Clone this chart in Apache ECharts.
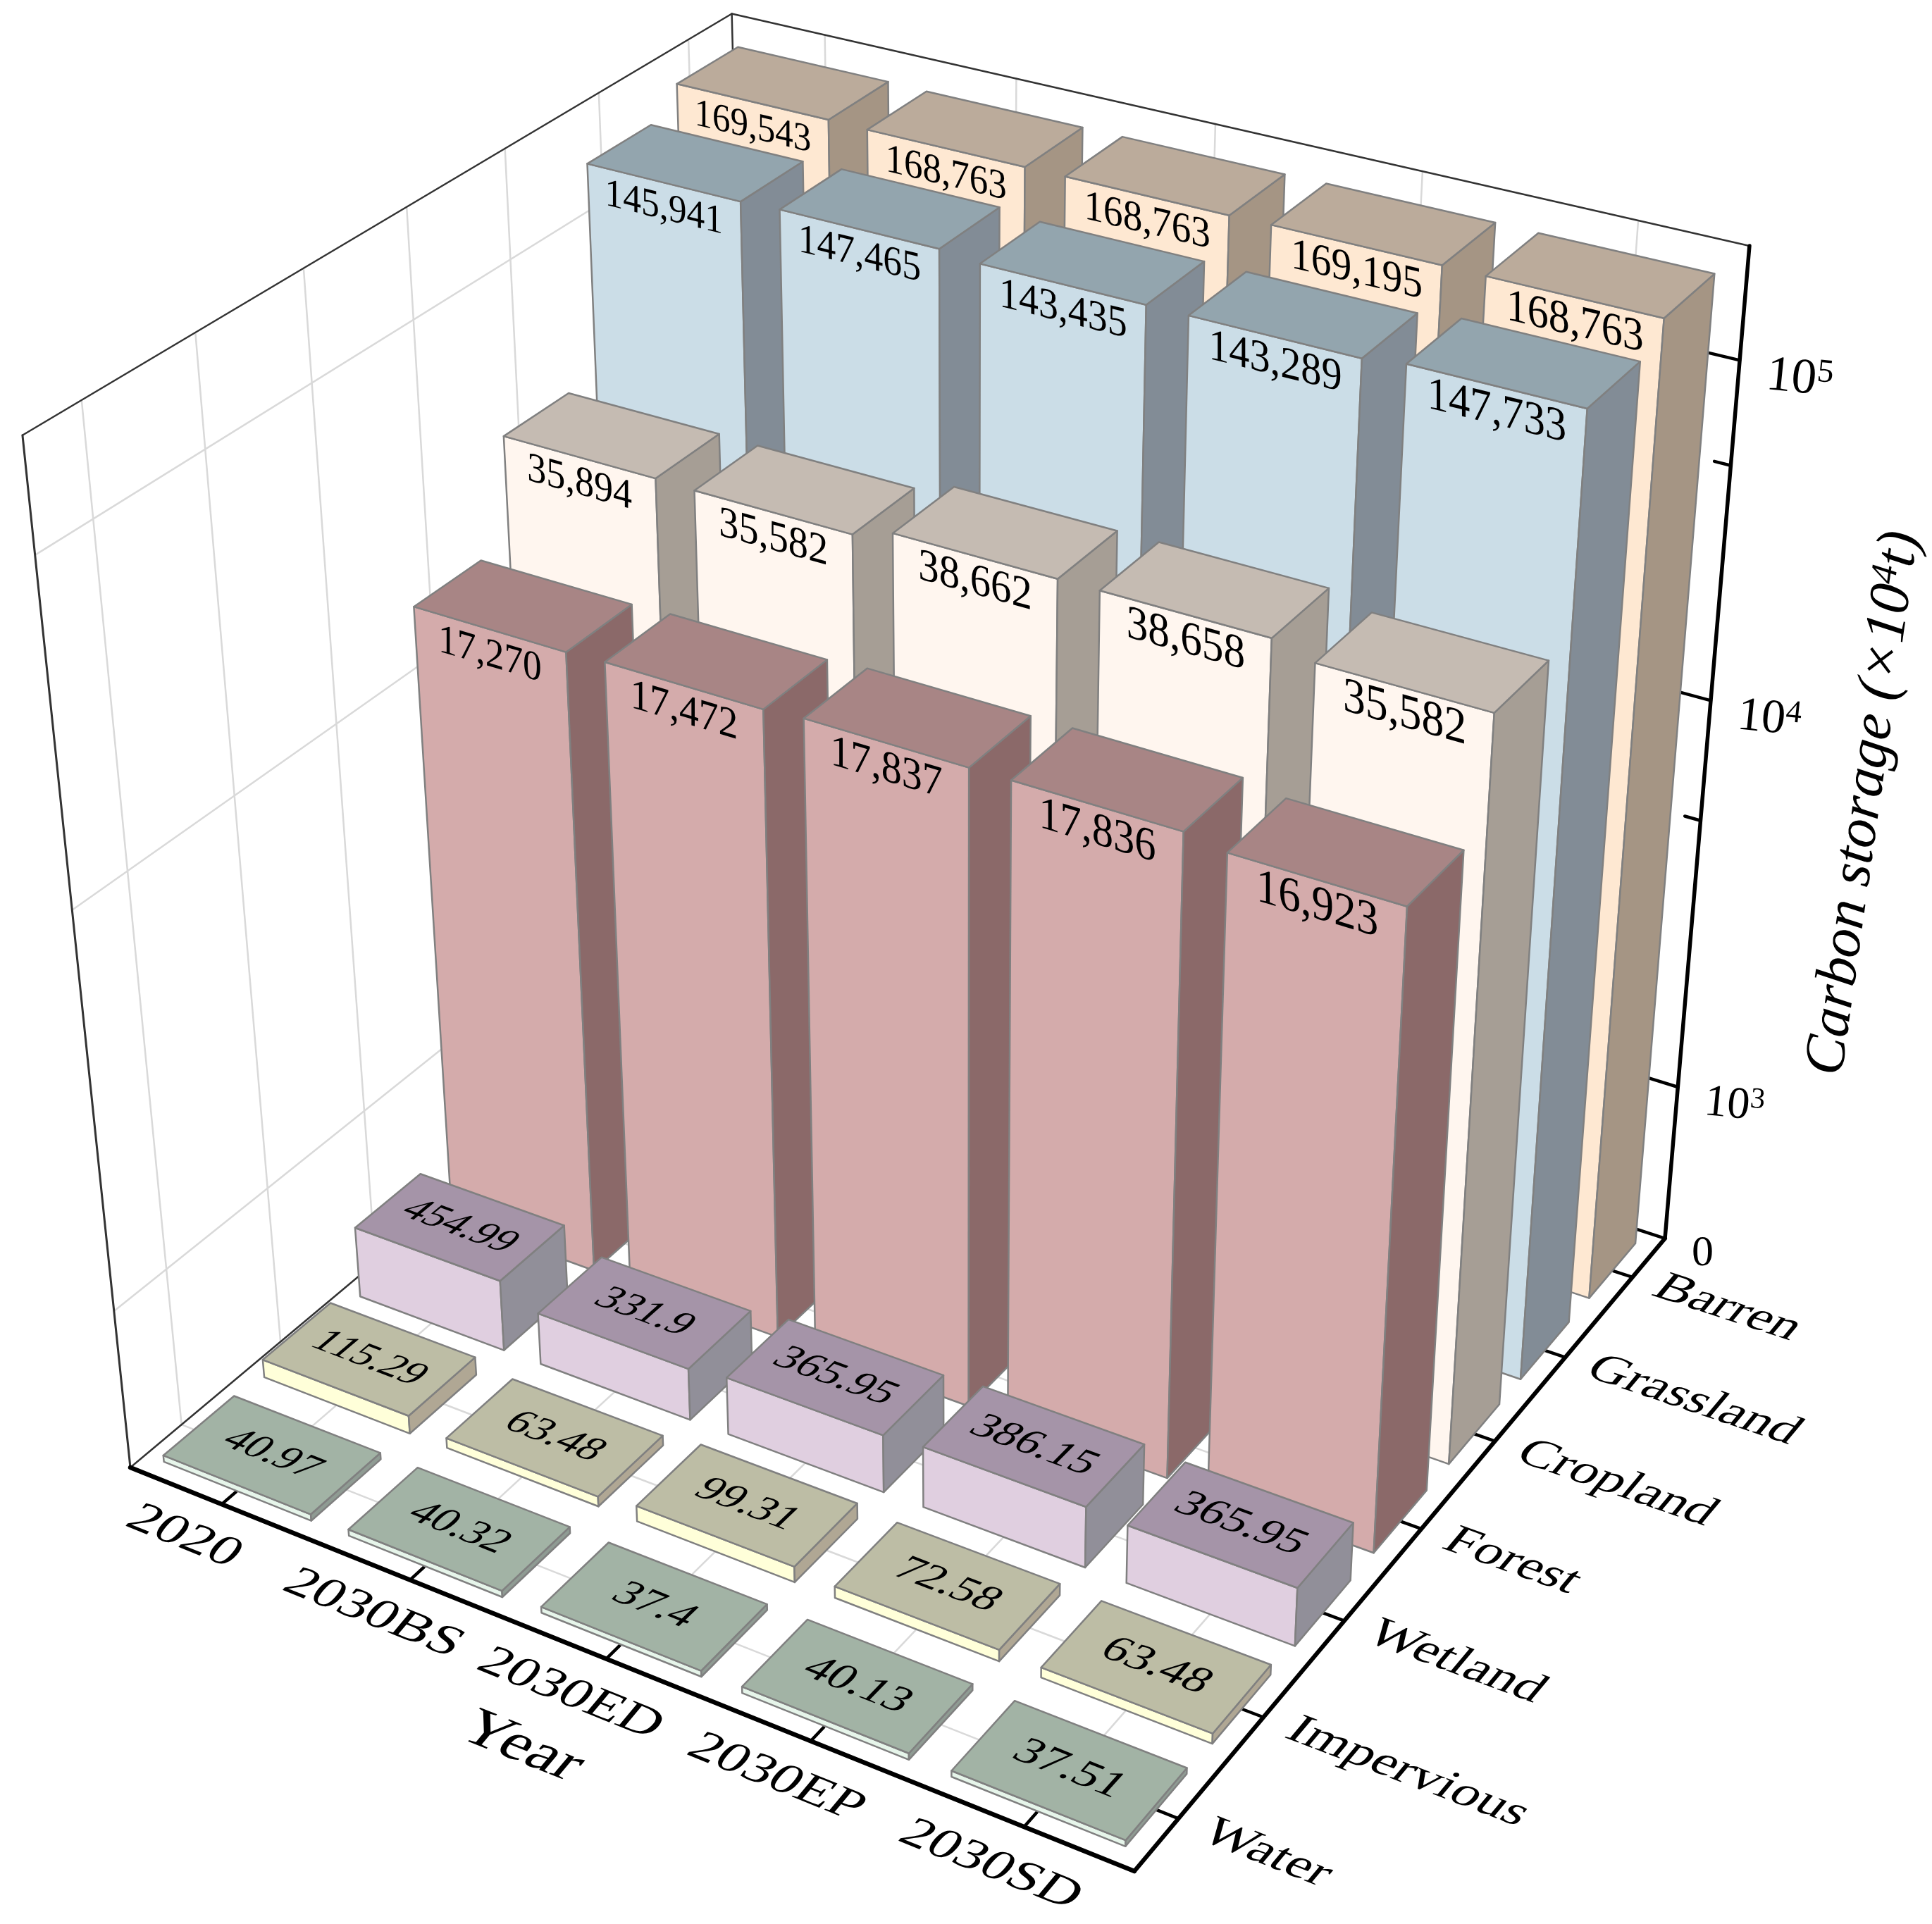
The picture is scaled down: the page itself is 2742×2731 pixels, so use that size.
<!DOCTYPE html>
<html>
<head>
<meta charset="utf-8">
<title>Carbon storage</title>
<script src="https://cdn.jsdelivr.net/npm/echarts@6/dist/echarts.min.js"></script>
<style>
  html, body { margin: 0; padding: 0; background: #fff; }
  #chart { width: 2742px; height: 2731px; }
</style>
</head>
<body>
<div id="chart"></div>
<script>
// data
const years = ['2020', '2030BS', '2030ED', '2030EP', '2030SD'];
const landTypes = ['Water', 'Impervious', 'Wetland', 'Forest', 'Cropland', 'Grassland', 'Barren'];
const water = [40.97, 40.32, 37.4, 40.13, 37.51];
const impervious = [115.29, 63.48, 99.31, 72.58, 63.48];
const wetland = [454.99, 331.9, 365.95, 386.15, 365.95];
const forest = [17270, 17472, 17837, 17836, 16923];
const cropland = [35894, 35582, 38662, 38658, 35582];
const grassland = [145941, 147465, 143435, 143289, 147733];
const barren = [169543, 168763, 168763, 169195, 168763];
const majorTicks = [0, 1000, 10000, 100000];
const minorTicks = [5000, 50000];
const tickLabels = ['0', '{b|10}{s|3}', '{b|10}{s|4}', '{b|10}{s|5}'];

const rows = [water, impervious, wetland, forest, cropland, grassland, barren];

// face colours per land type, same order as landTypes
const faces = [
  { front: '#e6f5ea', top: '#a2b3a5', side: '#8f9b93' },
  { front: '#ffffd9', top: '#bdbda5', side: '#b0a794' },
  { front: '#e0cfe0', top: '#a594a8', side: '#918f99' },
  { front: '#d4abab', top: '#a88585', side: '#8b6969', labelWidth: 0.68 },
  { front: '#fff6ef', top: '#c5bbb2', side: '#a69e95', labelWidth: 0.69 },
  { front: '#cbdde7', top: '#93a5ae', side: '#828c96', labelWidth: 0.77 },
  { front: '#fee8d2', top: '#bbab9b', side: '#a59584', labelWidth: 0.77 }
];

// camera: three vanishing points, origin at the left floor corner (full-size pixels)
const origin = [185, 2083];
const vpU = [-12789, -3134], kU = -0.09896;
const vpV = [6583, -3275], kV = 0.1608;
const vpW = [1370, 13426], kW = -0.1144;

function project(u, v, w) {
  const h = 1 + kU * u + kV * v + kW * w;
  return [
    (origin[0] + kU * u * vpU[0] + kV * v * vpV[0] + kW * w * vpW[0]) / h,
    (origin[1] + kU * u * vpU[1] + kV * v * vpV[1] + kW * w * vpW[1]) / h
  ];
}

// height axis: linear from 0 to 1000, then log per decade
const heightStops = [[3, 0.1678], [4, 0.57], [5, 0.8958], [5.286, 1]];
function heightOf(val) {
  if (val <= 1000) return val / 1000 * heightStops[0][1];
  const lg = Math.log10(val);
  for (let i = 0; i < heightStops.length - 1; i++) {
    const a = heightStops[i], b = heightStops[i + 1];
    if (lg <= b[0]) return echarts.number.linearMap(lg, [a[0], b[0]], [a[1], b[1]]);
  }
  return 1;
}

const GRID_W = 1000, GRID_H = 1000;
const BAR_U = 0.8 / years.length, BAR_V = 0.7 / landTypes.length;
const TEXT_FONT = '"Liberation Serif", "Times New Roman", serif';

// text lying on a skewed plane: dir is the baseline, up the glyph direction
function planeText(text, pos, dir, up, fontSize, squash, extraStyle) {
  return {
    type: 'text',
    x: pos[0], y: pos[1],
    scaleX: 1, scaleY: squash,
    skewX: Math.atan(up[0] / up[1]), skewY: Math.atan(-dir[1] / dir[0]),
    silent: true,
    style: Object.assign({
      text: text, fontSize: fontSize, fontFamily: TEXT_FONT, fill: '#000',
      align: 'center', verticalAlign: 'middle'
    }, extraStyle || {})
  };
}

function diff(a, b) { return [b[0] - a[0], b[1] - a[1]]; }

function line(a, b, color, width) {
  return {
    type: 'line', silent: true,
    shape: { x1: a[0], y1: a[1], x2: b[0], y2: b[1] },
    style: { stroke: color, lineWidth: width, lineCap: 'round' }
  };
}

function renderBar(params, api) {
  const c = api.coord([api.value(0), api.value(1)]);
  const uc = c[0] / GRID_W, vc = 1 - c[1] / GRID_H;
  const val = api.value(2);
  const h = heightOf(val);
  const u0 = uc - BAR_U / 2, u1 = uc + BAR_U / 2, v0 = vc - BAR_V / 2, v1 = vc + BAR_V / 2;
  const st = faces[api.value(1)];
  const edge = { stroke: '#808080', lineWidth: 2.5, lineJoin: 'round' };
  const face = (pts, fill) => ({
    type: 'polygon', silent: true,
    shape: { points: pts },
    style: Object.assign({ fill: fill }, edge)
  });
  const a = project(u0, v0, 0), b = project(u1, v0, 0), d = project(u1, v1, 0);
  const e = project(u0, v0, h), f = project(u1, v0, h), g = project(u1, v1, h), k = project(u0, v1, h);
  const children = [
    face([a, b, f, e], st.front),
    face([b, d, g, f], st.side),
    face([e, f, g, k], st.top)
  ];
  const faceW = f[0] - e[0];
  if (st.labelWidth) {
    // tall bars: thousands-separated label under the top edge of the front face
    const txt = val.toLocaleString('en-US');
    const em = (txt.length - 1) * 0.5 + 0.25;
    const mid = [(e[0] + f[0]) / 2, (e[1] + f[1]) / 2 + 37];
    children.push(planeText(txt, mid, diff(e, f), [0, -1], st.labelWidth * faceW / em, 1.1));
  } else {
    const mid = project(uc, vc, h);
    children.push(planeText(String(val), mid, diff(e, f), diff(e, k), faceW * 0.265, 0.68));
  }
  return { type: 'group', children: children };
}

function renderFrame(params, api) {
  const out = [];
  const GRID = '#d9d9d9', THIN = '#333', THICK = '#000';
  const uTicks = years.map((y, i) => (i + 0.5) / years.length);
  const vTicks = landTypes.map((y, i) => (i + 0.5) / landTypes.length);
  const wTicks = majorTicks.slice(1).map(heightOf);

  uTicks.forEach(u => {
    out.push(line(project(u, 0, 0), project(u, 1, 0), GRID, 2.5));
    out.push(line(project(u, 1, 0), project(u, 1, 1), GRID, 2.5));
  });
  vTicks.forEach(v => {
    out.push(line(project(0, v, 0), project(1, v, 0), GRID, 2.5));
    out.push(line(project(0, v, 0), project(0, v, 1), GRID, 2.5));
  });
  wTicks.forEach(w => {
    out.push(line(project(0, 0, w), project(0, 1, w), GRID, 2.5));
    out.push(line(project(0, 1, w), project(1, 1, w), GRID, 2.5));
  });

  // thin box edges
  out.push(line(project(0, 0, 0), project(0, 0, 1), THIN, 3));
  out.push(line(project(0, 0, 1), project(0, 1, 1), THIN, 2.5));
  out.push(line(project(0, 1, 1), project(1, 1, 1), THIN, 2.5));
  out.push(line(project(0, 1, 0), project(0, 1, 1), THIN, 2.5));
  out.push(line(project(0, 0, 0), project(0, 1, 0), THIN, 2.5));

  // thick axes
  out.push(line(project(0, 0, 0), project(1, 0, 0), THICK, 6.5));
  out.push(line(project(1, 0, 0), project(1, 1, 0), THICK, 6));
  out.push(line(project(1, 1, 0), project(1, 1, 1), THICK, 5.5));

  uTicks.forEach(u => out.push(line(project(u, 0, 0), project(u, 0.02, 0), THICK, 4.5)));
  vTicks.forEach(v => out.push(line(project(1, v, 0), project(0.98, v, 0), THICK, 4.5)));
  majorTicks.forEach(t => {
    const w = heightOf(t);
    out.push(line(project(1, 1, w), project(0.97, 1, w), THICK, 4.5));
  });
  minorTicks.forEach(t => {
    const w = heightOf(t);
    out.push(line(project(1, 1, w), project(0.985, 1, w), THICK, 4.5));
  });

  // labels lie in the floor plane
  const upV = diff(project(1, 0, 0), project(1, 1, 0));
  years.forEach((y, i) => {
    const dir = diff(project(uTicks[i] - 0.05, 0, 0), project(uTicks[i] + 0.05, 0, 0));
    out.push(planeText(y, project(uTicks[i], -0.052, 0), dir, upV, 75, 0.68));
  });
  landTypes.forEach((t, j) => {
    const dir = diff(project(0.98, vTicks[j], 0), project(1.08, vTicks[j], 0));
    out.push(planeText(t, project(1.025, vTicks[j], 0), dir, upV, 73, 0.68, { align: 'left' }));
  });
  out.push(planeText('Year', [740, 2480], diff(project(0.4, 0, 0), project(0.6, 0, 0)), upV, 87, 0.72));

  majorTicks.forEach((t, i) => {
    const w = heightOf(t);
    const p = project(1, 1, w);
    const fs = Math.round(62 + 10 * w);
    out.push({
      type: 'text', silent: true, x: p[0] + 38, y: p[1] + 22,
      rotation: i === 0 ? 0 : -0.1,
      style: {
        text: tickLabels[i], align: 'left', verticalAlign: 'middle',
        fontFamily: TEXT_FONT, fontSize: fs, fill: '#000',
        rich: {
          b: { fontFamily: TEXT_FONT, fontSize: fs, fill: '#000' },
          s: { fontFamily: TEXT_FONT, fontSize: Math.round(fs * 0.66), fill: '#000', verticalAlign: 'top' }
        }
      }
    });
  });

  out.push({
    type: 'text', silent: true, x: 2646, y: 1140,
    rotation: 82 * Math.PI / 180,
    style: {
      text: '{i|Carbon storage (×10}{s|4}{i|t)}',
      align: 'center', verticalAlign: 'middle',
      fontFamily: TEXT_FONT, fontStyle: 'italic', fontSize: 82, fill: '#000',
      rich: {
        i: { fontFamily: TEXT_FONT, fontStyle: 'italic', fontSize: 82, fill: '#000' },
        s: { fontFamily: TEXT_FONT, fontStyle: 'italic', fontSize: 53, fill: '#000', verticalAlign: 'top' }
      }
    }
  });
  return { type: 'group', children: out };
}

const series = [{
  type: 'custom', name: 'frame', coordinateSystem: 'cartesian2d',
  renderItem: renderFrame, data: [[0, 0]], clip: false, silent: true, animation: false, z: 1
}];
// back row first so nearer bars paint over it
for (let j = landTypes.length - 1; j >= 0; j--) {
  series.push({
    type: 'custom', name: landTypes[j], coordinateSystem: 'cartesian2d',
    renderItem: renderBar, clip: false, silent: true, animation: false,
    z: 2 + (landTypes.length - j),
    encode: { x: 0, y: 1 },
    data: rows[j].map((val, i) => [i, j, val])
  });
}

const chart = echarts.init(document.getElementById('chart'), null, { renderer: 'canvas' });
chart.setOption({
  animation: false,
  backgroundColor: '#fff',
  tooltip: { show: false },
  grid: { left: 0, top: 0, width: GRID_W, height: GRID_H, show: false },
  xAxis: { type: 'category', data: years, show: false },
  yAxis: { type: 'category', data: landTypes, show: false },
  series: series
});
</script>
</body>
</html>
